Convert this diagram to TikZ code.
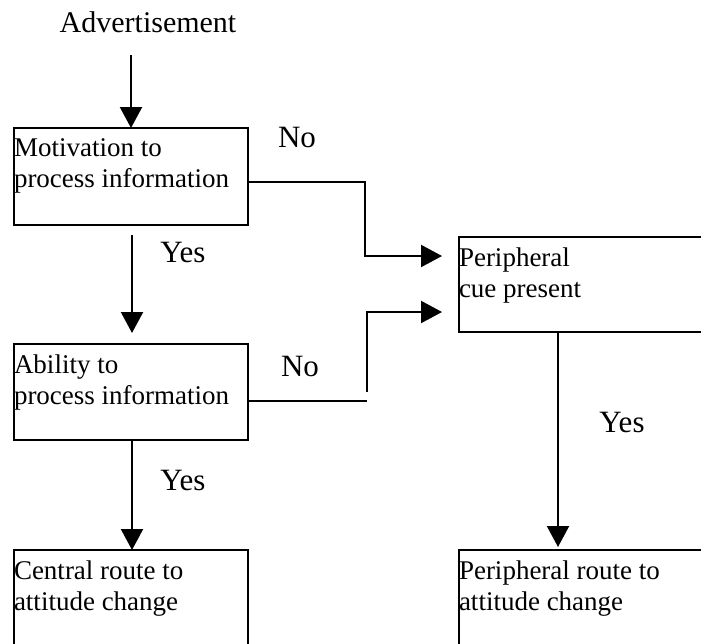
\documentclass[tikz,border=0pt]{standalone}
\usepackage{fontspec}
\setmainfont{Liberation Serif}
\usetikzlibrary{arrows.meta}
\tikzset{
  box/.style={draw, line width=2.2pt, inner sep=0pt, outer sep=0pt, anchor=north west},
  lbl/.style={font=\fontsize{31}{33}\selectfont, inner sep=0pt},
  conn/.style={line width=2.2pt, -{Triangle[length=21pt,width=22pt]}},
  plain/.style={line width=2.2pt},
}
\newcommand{\boxtext}[3]{\parbox[t][#2pt][t]{#1pt}{\fontsize{27}{31}\selectfont\vspace*{11pt}#3}}
\begin{document}
\begin{tikzpicture}[x=1pt,y=-1pt]
\useasboundingbox (0,0) rectangle (701,643);
% boxes
\node[box] (mot) at (14,128) {\boxtext{234}{97}{Motivation to\\process information}};
\node[box] (abl) at (14,344) {\boxtext{234}{96}{Ability to\\process information}};
\node[box] (cen) at (14,550) {\boxtext{234}{120}{Central route to\\attitude change}};
\node[box] (cue) at (459,237) {\boxtext{270}{95}{Peripheral\\cue present}};
\node[box] (per) at (459,550) {\boxtext{270}{120}{Peripheral route to\\attitude change}};
% labels
\node[lbl, font=\fontsize{30}{32}\selectfont] (adv) at (148,22) {Advertisement};
\node[lbl] (no1) at (297,137) {No};
\node[lbl] (no2) at (300,366) {No};
\node[lbl] (yes1) at (183,252) {Yes};
\node[lbl] (yes2) at (183,480) {Yes};
\node[lbl] (yes3) at (622,422) {Yes};
% connectors
\coordinate (advend) at (131,55);
\draw[conn] (advend) -- (advend |- mot.north);
\coordinate (m1) at (132,235);
\coordinate (m2) at (132,333);
\draw[conn] (m1) -- (m2);
\coordinate (a1) at (132,440);
\draw[conn] (a1) -- (a1 |- cen.north);
\coordinate (j1) at (365,182);
\coordinate (j2) at (365,256);
\draw[conn, shorten >=17pt] (mot.east |- j1) -- (j1) -- (j2) -- (j2 -| cue.west);
\coordinate (k1) at (367,401);
\coordinate (k2) at (367,392);
\coordinate (k3) at (367,312);
\draw[plain] (abl.east |- k1) -- (k1);
\draw[conn, shorten >=17pt] (k2) -- (k3) -- (k3 -| cue.west);
\coordinate (c1) at (558,332);
\draw[conn, shorten >=3pt] (c1) -- (c1 |- per.north);
\end{tikzpicture}
\end{document}
